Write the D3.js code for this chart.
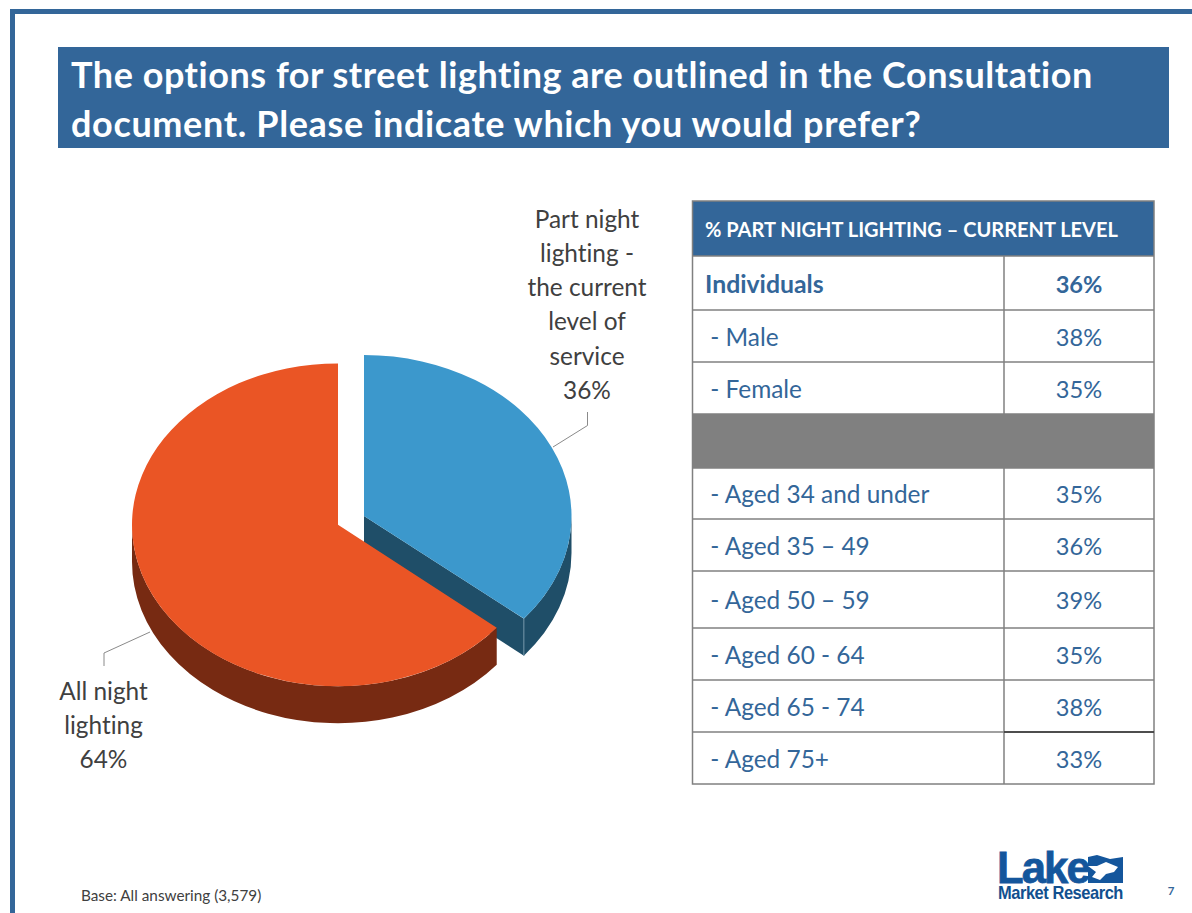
<!DOCTYPE html>
<html><head><meta charset="utf-8">
<script src="https://cdn.jsdelivr.net/npm/d3@7/dist/d3.min.js"></script>
<style>html,body{margin:0;padding:0;background:#fff}svg{display:block}text{font-family:Lato,sans-serif;font-variant-ligatures:none}</style>
</head><body><svg id="c" width="1192" height="913"></svg>
<script>
const titleLines = ["The options for street lighting are outlined in the Consultation","document. Please indicate which you would prefer?"];
const sliceNames = ["Part night lighting","All night lighting"];
const sliceValues = [36,64];
const sliceLabels = [["Part night","lighting -","the current","level of","service","36%"],["All night","lighting","64%"]];
const tableHeader = "% PART NIGHT LIGHTING – CURRENT LEVEL";
const rowLabels = ["Individuals"," - Male"," - Female",""," - Aged 34 and under"," - Aged 35 – 49"," - Aged 50 – 59"," - Aged 60 - 64"," - Aged 65 - 74"," - Aged 75+"];
const rowValues = ["36%","38%","35%","","35%","36%","39%","35%","38%","33%"];
const baseNote = "Base: All answering (3,579)";

const BLUE="#336699", svg=d3.select("#c");
// frame
svg.append("rect").attr("x",10).attr("y",9).attr("width",1182).attr("height",5).attr("fill",BLUE);
svg.append("rect").attr("x",10).attr("y",9).attr("width",5).attr("height",904).attr("fill",BLUE);
// title
svg.append("rect").attr("x",58).attr("y",47).attr("width",1111).attr("height",101).attr("fill",BLUE);
const titleSpacing=[0.53,0.64];
svg.selectAll(".t").data(titleLines).join("text").attr("x",71).attr("y",(d,i)=>88+i*48.5)
  .attr("fill","#fff").attr("font-weight",700).attr("font-size",36).attr("letter-spacing",(d,i)=>titleSpacing[i]).text(d=>d);

// pie
const pie=d3.pie().sort(null)(sliceValues);
const depth=37;
const geo=[{cx:364,cy:516,r:207.5,ry:161,col:"#3c98cc",dark:"#1f4e68"},{cx:338,cy:524.8,r:206,ry:161.4,col:"#ea5525",dark:"#772a12"}];
const g=svg.append("g");
function pt(s,a){return [s.cx+s.r*Math.sin(a), s.cy-s.ry*Math.cos(a)];}
function wall(s,a0,a1){
  const [x0,y0]=pt(s,a0),[x1,y1]=pt(s,a1);
  return `M${x0},${y0}A${s.r},${s.ry} 0 0 1 ${x1},${y1}L${x1},${y1+depth}A${s.r},${s.ry} 0 0 0 ${x0},${y0+depth}Z`;
}
{
  const s=geo[0],a=pie[0];
  const e=pt(s,a.endAngle);
  g.append("path").attr("d",wall(s,Math.PI/2,a.endAngle)).attr("fill",s.dark);
  g.append("path").attr("d",d3.line()([[s.cx,s.cy],e,[e[0],e[1]+depth],[s.cx,s.cy+depth]])).attr("fill",s.dark);
  g.append("line").attr("x1",e[0]).attr("y1",e[1]).attr("x2",e[0]).attr("y2",e[1]+depth).attr("stroke","#6f93a6").attr("stroke-width",1);
}
{
  const s=geo[1],a=pie[1];
  g.append("path").attr("d",wall(s,a.startAngle,3*Math.PI/2)).attr("fill",s.dark);
}
pie.forEach((a,i)=>{
  const s=geo[i];
  g.append("path").attr("d",d3.arc().innerRadius(0).outerRadius(s.r)(a))
   .attr("transform",`translate(${s.cx},${s.cy}) scale(1,${s.ry/s.r})`).attr("fill",s.col);
});
// leaders
const leaders=[[[553,447],[587.5,425.5],[587.5,412]],[[150,632],[104,653],[104,666]]];
svg.selectAll(".ld").data(leaders).join("path").attr("d",d3.line()).attr("fill","none").attr("stroke","#8a8a8a").attr("stroke-width",1);
// labels
const labelPos=[{x:587,y:227.5},{x:103.5,y:699.5}];
sliceLabels.forEach((ls,i)=>{
  svg.selectAll(null).data(ls).join("text").attr("x",labelPos[i].x).attr("y",(d,k)=>labelPos[i].y+k*34.3)
   .attr("text-anchor","middle").attr("font-size",24.4).attr("fill","#404040").text(d=>d);
});

// table
const X0=692.5,XM=1004,X1=1154;
const edges=[256,310,362,414,468,519,571,628,680,732,784];
svg.append("rect").attr("x",X0).attr("y",201).attr("width",X1-X0).attr("height",55).attr("fill",BLUE);
svg.append("text").attr("x",705).attr("y",237).attr("fill","#fff").attr("font-weight",700).attr("font-size",20).text(tableHeader);
const rows=svg.selectAll(".row").data(rowLabels).join("g");
rows.each(function(d,i){
  const r=d3.select(this),y0=edges[i],y1=edges[i+1],mid=(y0+y1)/2+9.6;
  if(d===""){r.append("rect").attr("x",X0).attr("y",y0).attr("width",X1-X0).attr("height",y1-y0).attr("fill","#808080");return;}
  r.append("text").attr("x",i===0?705:704).attr("y",mid).style("white-space","pre")
   .attr("fill",BLUE).attr("font-size",i===0?24.8:24.4).attr("font-weight",i===0?700:400).text(d);
  r.append("text").attr("x",1079).attr("y",mid).attr("text-anchor","middle")
   .attr("fill",BLUE).attr("font-size",23.6).attr("font-weight",i===0?700:400).text(rowValues[i]);
});
const gl=svg.append("g").attr("stroke","#808080").attr("stroke-width",1.5).attr("fill","none");
gl.append("rect").attr("x",X0).attr("y",201).attr("width",X1-X0).attr("height",583);
edges.slice(0,-1).forEach(y=>gl.append("line").attr("x1",X0).attr("x2",X1).attr("y1",y).attr("y2",y));
gl.append("line").attr("x1",XM).attr("x2",XM).attr("y1",256).attr("y2",784);
gl.append("line").attr("x1",XM).attr("x2",X1).attr("y1",732).attr("y2",732).attr("stroke","#333");

// footer
svg.append("text").attr("x",81).attr("y",901).attr("font-size",15.3).attr("fill","#404040").text(baseNote);
svg.append("text").attr("x",1171).attr("y",895).attr("text-anchor","middle").attr("font-size",11.5).attr("font-weight",700).attr("fill",BLUE).text("7");
// logo
svg.append("text").attr("transform","translate(997,883) scale(.97,1)").style("font-family","'Liberation Sans'").attr("font-weight",700).attr("font-size",45).attr("letter-spacing",-2).attr("fill","#14569c").attr("stroke","#14569c").attr("stroke-width",.8).text("Lake");
svg.append("text").attr("transform","translate(998,899) scale(.915,1)").style("font-family","'Liberation Sans'").attr("font-weight",700).attr("font-size",18).attr("letter-spacing",-.5).attr("fill","#12508f").text("Market Research");
svg.append("path").attr("d","M1088,857L1097,855L1110,859L1123,857V883H1088Z").attr("fill","#14569c");
svg.append("path").attr("d","M1088,866L1097,866L1106,862L1118,867L1114,872L1106,874L1100,880L1092,877L1096,872Z").attr("fill","#fff");
</script></body></html>
